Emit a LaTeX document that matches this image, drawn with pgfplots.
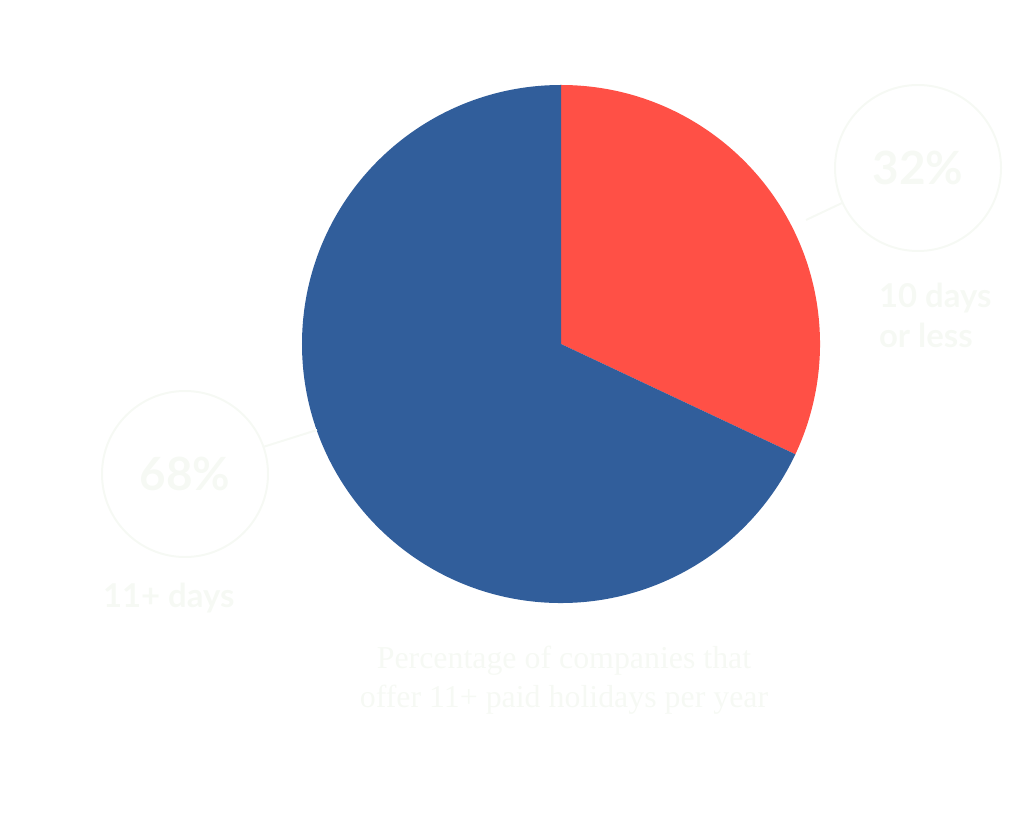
\documentclass[border=0pt]{standalone}
\usepackage{pgfplots}
\usepackage{pgfplotstable}
\usepackage{fontspec}
\pgfplotsset{compat=1.18}
\setmainfont{Liberation Serif}
\newfontfamily\labfont{Lato}
\definecolor{pred}{RGB}{255,80,70}
\definecolor{pblue}{RGB}{49,94,155}
\definecolor{faint}{RGB}{246,249,244}
\pgfplotstableread{
label value
tenless 32
elevenplus 68
}\piedata
\pgfplotstablegetelem{0}{value}\of\piedata
\let\va\pgfplotsretval
\pgfmathsetmacro\aend{90-3.6*\va}
\begin{document}
\begin{tikzpicture}
\begin{axis}[
  x=0.5bp, y=0.5bp,
  xmin=0, xmax=1024, ymin=0, ymax=835,
  hide axis, clip=false,
  scale only axis,
]
\path (axis cs:0,0) rectangle (axis cs:1024,835);
% pie, centre (561,491), radius 259 px = 129.5bp
\fill[pred] (axis cs:561,491) -- (axis cs:561,750) arc[start angle=90, end angle=\aend, radius=129.5bp] -- cycle;
\fill[pblue] (axis cs:561,491) -- (axis cs:561,750) arc[start angle=90, end angle=\aend+360, radius=129.5bp] -- cycle;
% connector lines and circles
\draw[faint, line width=1bp] (axis cs:806,615) -- (axis cs:842,632);
\draw[faint, line width=1bp] (axis cs:918,667) circle[radius=41.5bp];
\draw[faint, line width=1bp] (axis cs:263,388) -- (axis cs:317,405);
\draw[faint, line width=1bp] (axis cs:185,361) circle[radius=41.5bp];
% labels
\node[faint, font=\labfont\bfseries\fontsize{23}{27}\selectfont] at (axis cs:918,667) {32\%};
\node[faint, font=\labfont\bfseries\fontsize{23}{27}\selectfont] at (axis cs:185,361) {68\%};
\node[faint, anchor=base west, align=left, font=\labfont\bfseries\fontsize{16.5}{20.5}\selectfont] at (axis cs:872,487) {10 days\\or less};
\node[faint, anchor=base west, font=\labfont\bfseries\fontsize{16.5}{20.5}\selectfont] at (axis cs:96,228) {11+ days};
\node[faint, anchor=base, align=center, font=\fontsize{16}{19.5}\selectfont] at (axis cs:564,128) {Percentage of companies that\\offer 11+ paid holidays per year};
\end{axis}
\end{tikzpicture}
\end{document}
